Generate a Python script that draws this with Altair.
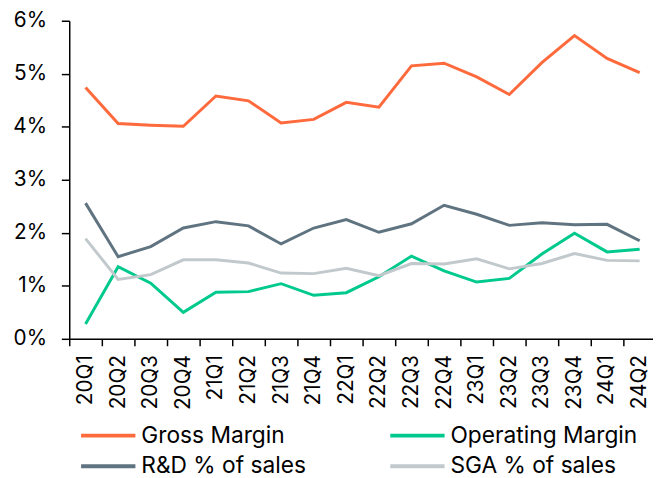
import altair as alt
import pandas as pd

quarters = ["20Q1", "20Q2", "20Q3", "20Q4", "21Q1", "21Q2", "21Q3", "21Q4",
            "22Q1", "22Q2", "22Q3", "22Q4", "23Q1", "23Q2", "23Q3", "23Q4",
            "24Q1", "24Q2"]
gross_margin = [4.74, 4.06, 4.03, 4.01, 4.58, 4.49, 4.07, 4.14, 4.46, 4.37,
                5.15, 5.20, 4.94, 4.61, 5.21, 5.72, 5.29, 5.02]
operating_margin = [0.28, 1.36, 1.05, 0.50, 0.88, 0.89, 1.04, 0.82, 0.87, 1.17,
                    1.56, 1.28, 1.07, 1.14, 1.60, 1.99, 1.64, 1.69]
rd_sales = [2.56, 1.55, 1.74, 2.09, 2.21, 2.13, 1.79, 2.09, 2.25, 2.01,
            2.17, 2.52, 2.35, 2.14, 2.19, 2.15, 2.16, 1.85]
sga_sales = [1.89, 1.12, 1.21, 1.49, 1.49, 1.43, 1.24, 1.23, 1.33, 1.19,
             1.42, 1.41, 1.51, 1.32, 1.42, 1.61, 1.48, 1.47]

series_names = ["Gross Margin", "Operating Margin", "R&D % of sales", "SGA % of sales"]
series_colors = ["#FF6A3D", "#00C98D", "#5F7480", "#C2C9CD"]
y_ticks = [0, 1, 2, 3, 4, 5, 6]

rows = []
for name, vals in zip(series_names, [gross_margin, operating_margin, rd_sales, sga_sales]):
    for q, v in zip(quarters, vals):
        rows.append({"quarter": q, "value": v, "series": name})
df = pd.DataFrame(rows)

FONT = "Inter"

chart = alt.Chart(df).mark_line(strokeWidth=3).encode(
    x=alt.X("quarter:N", sort=quarters, title=None,
            scale=alt.Scale(range=[0, 594], paddingInner=0, paddingOuter=0),
            axis=alt.Axis(labelAngle=-90, labelFontSize=21, labelColor="black",
                          labelFont=FONT, labelPadding=9, tickSize=7,
                          tickBand="extent", tickColor="black", tickWidth=1.5,
                          domainColor="black", domainWidth=1.5, grid=False)),
    y=alt.Y("value:Q", title=None,
            scale=alt.Scale(domain=[0, 6], nice=False),
            axis=alt.Axis(values=y_ticks, labelExpr="datum.value + '%'",
                          labelFontSize=21, labelColor="black", labelFont=FONT,
                          labelPadding=15, tickSize=8, tickColor="black",
                          tickWidth=1.5, domainColor="black", domainWidth=1.5,
                          grid=False)),
    color=alt.Color("series:N", sort=series_names,
                    scale=alt.Scale(domain=series_names, range=series_colors),
                    legend=alt.Legend(orient="none", legendX=10, legendY=409,
                                      columns=2, direction="horizontal",
                                      title=None, symbolType="stroke",
                                      symbolSize=3025, symbolStrokeWidth=4,
                                      clipHeight=22, labelFontSize=23,
                                      labelFont=FONT, labelColor="black",
                                      labelOffset=4, labelLimit=400,
                                      rowPadding=8, columnPadding=83)),
).properties(
    width=591, height=322,
    autosize=alt.AutoSizeParams(type="none"),
    padding={"left": 62, "top": 10, "right": 0, "bottom": 138},
).configure_view(stroke=None)

chart.save("out.html", embed_options={"renderer": "svg", "actions": False})
